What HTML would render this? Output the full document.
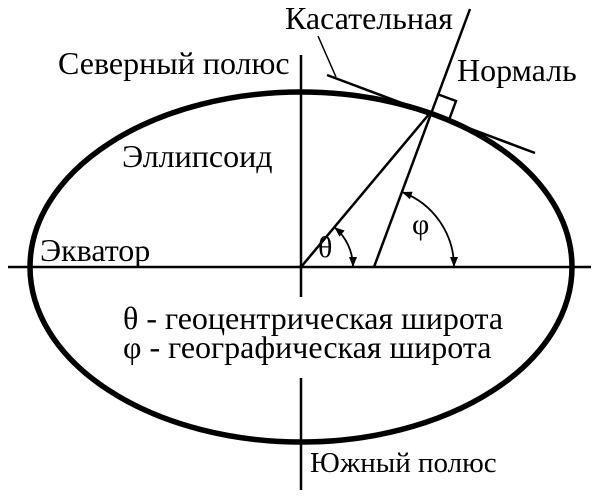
<!DOCTYPE html>
<html><head><meta charset="utf-8"><style>
html,body{margin:0;padding:0;background:#fff;width:600px;height:503px;overflow:hidden;position:relative}
svg{position:absolute;left:0;top:0}
.t{position:absolute;font-family:"Liberation Serif","Times New Roman",serif;font-size:32px;line-height:1;white-space:nowrap;color:#000}
</style></head>
<body>
<svg width="600" height="503" viewBox="0 0 600 503" xmlns="http://www.w3.org/2000/svg">
<defs>
<marker id="ar" viewBox="0 0 10 8" refX="10" refY="4" markerWidth="11" markerHeight="8" markerUnits="userSpaceOnUse" orient="auto-start-reverse">
<path d="M0,0 L10,4 L0,8 Z"/>
</marker>
</defs>
<ellipse cx="301" cy="267" rx="271" ry="175" fill="none" stroke="#000" stroke-width="5.5"/>
<line x1="8" y1="267" x2="591" y2="267" stroke="#000" stroke-width="2.5"/>
<line x1="301" y1="55" x2="301" y2="297" stroke="#000" stroke-width="2.5"/>
<line x1="301" y1="378" x2="301" y2="490" stroke="#000" stroke-width="2.5"/>
<line x1="301" y1="267" x2="430" y2="113" stroke="#000" stroke-width="2.5"/>
<line x1="374" y1="267" x2="470" y2="9" stroke="#000" stroke-width="2.5"/>
<line x1="327" y1="75" x2="535" y2="153" stroke="#000" stroke-width="2.5"/>
<line x1="318" y1="36" x2="336" y2="77" stroke="#000" stroke-width="1.5"/>
<path d="M437,94 L456,101 L449,120" fill="none" stroke="#000" stroke-width="2.5"/>
<path d="M353,267 A52,52 0 0 0 334.4,227.2" fill="none" stroke="#000" stroke-width="1.8" marker-start="url(#ar)" marker-end="url(#ar)"/>
<path d="M454,267 A80,80 0 0 0 401.9,192" fill="none" stroke="#000" stroke-width="1.8" marker-start="url(#ar)" marker-end="url(#ar)"/>
</svg>
<div class="t" style="left:58px;top:47px">Северный полюс</div>
<div class="t" style="left:285px;top:2px">Касательная</div>
<div class="t" style="left:457px;top:54px">Нормаль</div>
<div class="t" style="left:122px;top:140px">Эллипсоид</div>
<div class="t" style="left:40px;top:234px">Экватор</div>
<div class="t" style="left:318px;top:233px;font-size:30px">θ</div>
<div class="t" style="left:412px;top:210px;font-size:30px">φ</div>
<div class="t" style="left:123px;top:302px">θ - геоцентрическая широта</div>
<div class="t" style="left:123px;top:331px">φ - географическая широта</div>
<div class="t" style="left:310px;top:449px;font-size:29px">Южный полюс</div>
</body></html>
